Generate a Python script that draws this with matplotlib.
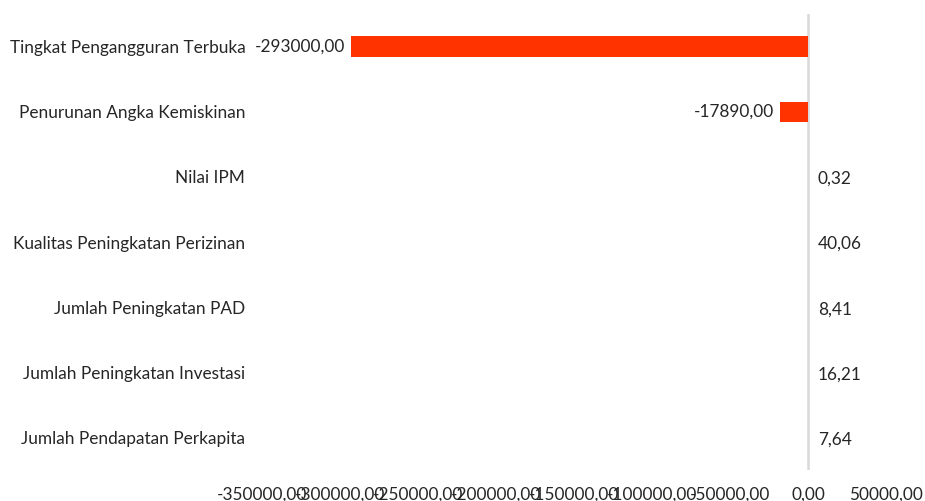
import matplotlib
matplotlib.use("Agg")
import matplotlib.pyplot as plt

plt.rcParams['font.family'] = ['Lato', 'DejaVu Sans']

categories = [
    "Tingkat Pengangguran Terbuka",
    "Penurunan Angka Kemiskinan",
    "Nilai IPM",
    "Kualitas Peningkatan Perizinan",
    "Jumlah Peningkatan PAD",
    "Jumlah Peningkatan Investasi",
    "Jumlah Pendapatan Perkapita",
]
values = [-293000.00, -17890.00, 0.32, 40.06, 8.41, 16.21, 7.64]
xticks = [-350000, -300000, -250000, -200000, -150000, -100000, -50000, 0, 50000]

TEXT = "#262626"
BAR = "#ff3300"
FS = 12.4


def fmt(v):
    return f"{v:.2f}".replace(".", ",")


fig = plt.figure(figsize=(9.25, 5.01), dpi=100)
ax = fig.add_axes([262 / 925, 31 / 501, 624 / 925, 456 / 501])

pos = list(range(len(categories)))
ax.barh(pos, values, height=0.31, color=BAR, zorder=2)
ax.axvline(0, color="#d9d9d9", lw=1.8, zorder=1)

for y, v in zip(pos, values):
    if v < 0:
        ax.annotate(fmt(v), (v, y), xytext=(-4, 0), textcoords="offset points",
                    ha="right", va="center", fontsize=FS, color=TEXT)
    else:
        ax.annotate(fmt(v), (0, y), xytext=(7, -1.5), textcoords="offset points",
                    ha="left", va="center", fontsize=FS, color=TEXT)

ax.set_xlim(-350000, 50000)
ax.set_ylim(-0.5, len(categories) - 0.5)
ax.invert_yaxis()

ax.set_yticks(pos)
ax.set_yticklabels(categories, fontsize=FS, color=TEXT)
ax.set_xticks(xticks)
ax.set_xticklabels([fmt(t) for t in xticks], fontsize=FS, color=TEXT)
ax.tick_params(axis="y", length=0, pad=12)
ax.tick_params(axis="x", length=0, pad=12)

for s in ax.spines.values():
    s.set_visible(False)

fig.savefig("out.png", dpi=100)
